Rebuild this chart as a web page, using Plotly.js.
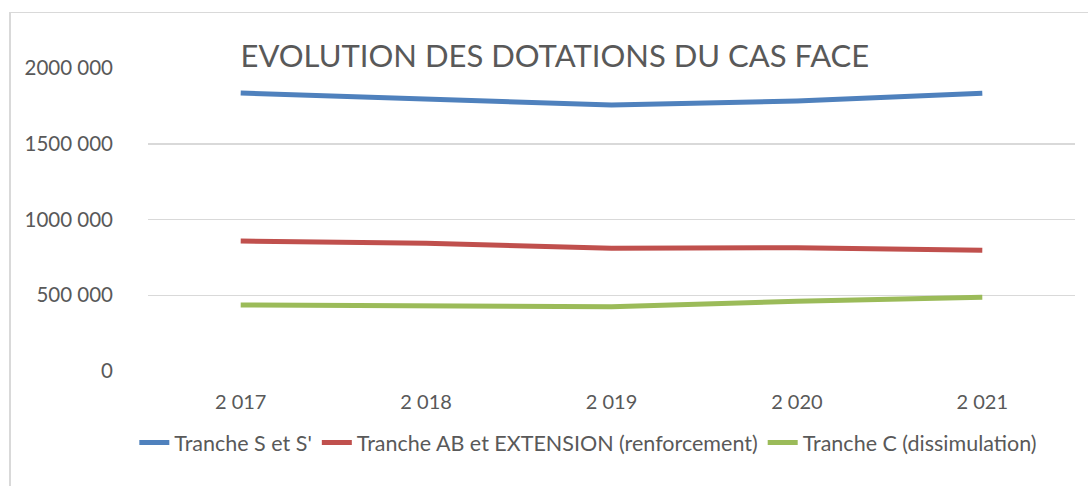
<!DOCTYPE html>
<html>
<head>
<meta charset="utf-8">
<script src="https://cdn.plot.ly/plotly-3.0.1.min.js"></script>
<style>
  html, body { margin: 0; padding: 0; background: #ffffff; }
  #wrap { position: relative; width: 1088px; height: 486px; overflow: hidden; }
  #chart { position: absolute; left: 0; top: 0; width: 1088px; height: 486px; }
  #frame { position: absolute; left: 9px; top: 12px; width: 1100px; height: 500px;
           border-left: 2px solid #d9d9d9; border-top: 1px solid #d9d9d9; pointer-events: none; }
</style>
</head>
<body>
<div id="wrap">
  <div id="chart"></div>
  <div id="frame"></div>
</div>
<script>
const years = ["2 017", "2 018", "2 019", "2 020", "2 021"];
const trancheS = [1835000, 1797000, 1755000, 1782000, 1833000];
const trancheAB = [858000, 843000, 810000, 814000, 797000];
const trancheC = [436000, 429000, 424000, 461000, 487000];
const seriesNames = ["Tranche S et S'", "Tranche AB et EXTENSION (renforcement)", "Tranche C (dissimulation)"];
const seriesColors = ["#4f81bd", "#c0504d", "#9bbb59"];
const yTickVals = [0, 500000, 1000000, 1500000, 2000000];
const yTickText = ["0", "500 000", "1000 000", "1500 000", "2000 000"];

const fontFam = "Lato, 'Open Sans', sans-serif";
const seriesData = [trancheS, trancheAB, trancheC];
const traces = seriesData.map((vals, i) => ({
  type: "scatter",
  mode: "lines",
  x: years,
  y: vals,
  name: seriesNames[i],
  line: { color: seriesColors[i], width: 5 },
  hoverinfo: "x+y+name"
}));

const layout = {
  width: 1088,
  height: 486,
  paper_bgcolor: "#ffffff",
  plot_bgcolor: "#ffffff",
  margin: { l: 148, r: 13, t: 68, b: 115 },
  title: {
    text: "EVOLUTION DES DOTATIONS DU CAS FACE",
    font: { family: fontFam, size: 31, color: "#595959" },
    x: 0.51,
    xanchor: "center",
    y: 0.885,
    yanchor: "middle"
  },
  xaxis: {
    type: "category",
    range: [-0.5, 4.5],
    showgrid: false,
    zeroline: false,
    showline: false,
    ticks: "",
    tickfont: { family: fontFam, size: 20, color: "#595959" },
    ticklabelstandoff: 17
  },
  yaxis: {
    range: [0, 2000000],
    tickvals: yTickVals,
    ticktext: yTickText,
    showgrid: true,
    gridcolor: "#d9d9d9",
    gridwidth: 1.5,
    zeroline: false,
    showline: false,
    ticks: "",
    tickfont: { family: fontFam, size: 20.5, color: "#595959" },
    ticklabelstandoff: 34
  },
  showlegend: true,
  legend: {
    orientation: "h",
    x: 0.475,
    xanchor: "center",
    y: -0.168,
    yanchor: "top",
    font: { family: fontFam, size: 21.5, color: "#595959" },
    itemwidth: 30,
    tracegroupgap: 0
  }
};

Plotly.newPlot("chart", traces, layout, { displayModeBar: false, staticPlot: true });
</script>
</body>
</html>
